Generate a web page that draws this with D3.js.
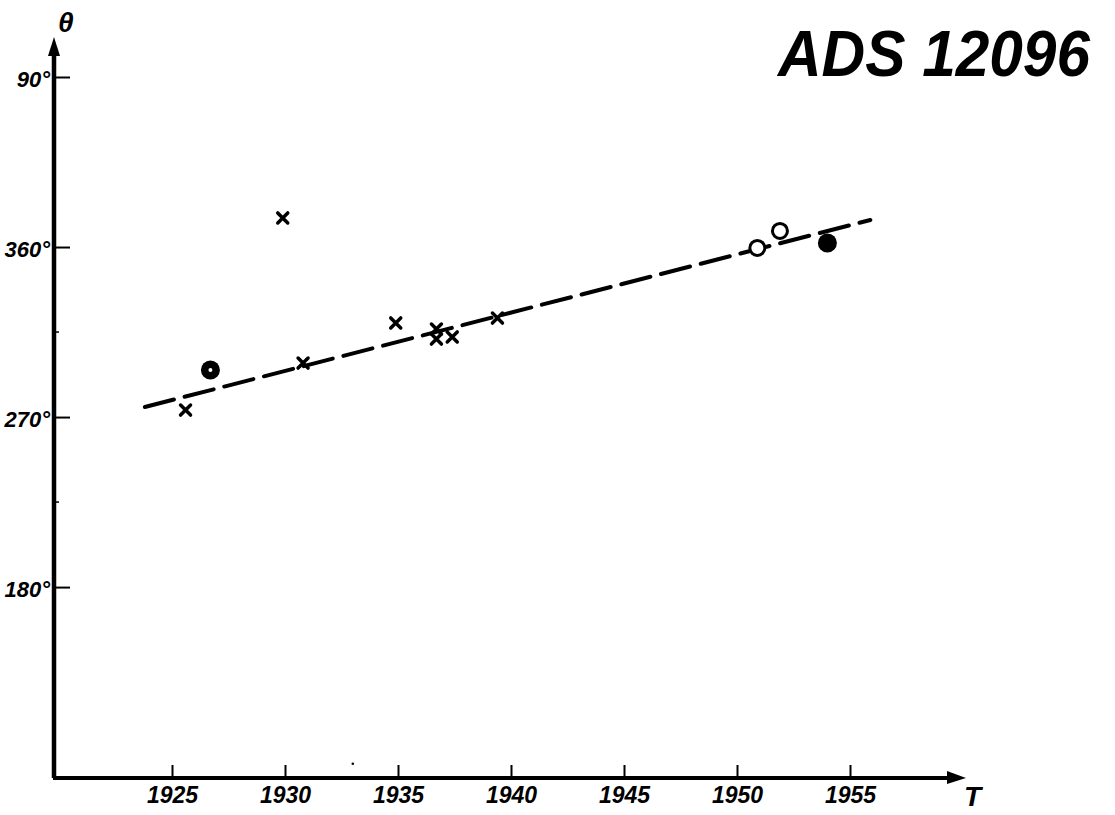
<!DOCTYPE html>
<html>
<head>
<meta charset="utf-8">
<script src="https://cdn.jsdelivr.net/npm/d3@7"></script>
<style>
  body { margin: 0; background: #fff; }
  text { font-family: "Liberation Sans", Arial, sans-serif; font-style: italic; font-weight: bold; fill: #000; }
</style>
</head>
<body>
<svg id="chart" width="1115" height="815"></svg>
<script>
// observations: year, position angle (deg, unwrapped past 360)
var crossYears = [1925.6, 1929.9, 1930.8, 1934.9, 1936.7, 1936.7, 1937.4, 1939.4];
var crossAngles = [273.7, 375.4, 298.6, 319.8, 316.6, 311.3, 312.4, 322.4];
var openYears = [1950.9, 1951.9];
var openAngles = [359.5, 368.5];
var filledYears = [1954.0];
var filledAngles = [362.1];
var ringYears = [1926.7];
var ringAngles = [294.9];
var fitYears = [1923.8, 1955.9];
var fitAngles = [275.3, 374.3];
var xTicks = [1925, 1930, 1935, 1940, 1945, 1950, 1955];
var yTicks = [450, 360, 270, 180];
var yTickLabels = ["90°", "360°", "270°", "180°"];
var yMinor = [315, 225];
var speckYears = [1933];
var speckAngles = [86.5];

var svg = d3.select("#chart");
var x = d3.scaleLinear().domain([1925, 1955]).range([172, 850]);
var y = d3.scaleLinear().domain([80, 450]).range([776, 77]);
var x0 = 54, y0 = 778;

function zip(a, b) {
  return a.map(function (v, i) { return [v, b[i]]; });
}

// axes lines with arrows
svg.append("path")
  .attr("d", "M" + x0 + "," + y0 + "L" + x0 + ",50")
  .attr("stroke", "#000").attr("stroke-width", 4.5).attr("fill", "none");
svg.append("path")
  .attr("d", "M" + (x0 - 1) + "," + y0 + "L952," + y0)
  .attr("stroke", "#000").attr("stroke-width", 4).attr("fill", "none");
svg.append("path").attr("d", "M" + x0 + ",37L" + (x0 - 6) + ",56L" + (x0 + 6) + ",56Z").attr("fill", "#000");
svg.append("path").attr("d", "M966," + y0 + "L947," + (y0 - 7) + "L947," + (y0 + 6) + "Z").attr("fill", "#000");

// y axis ticks + labels
var yAxis = d3.axisLeft(y).tickValues(yTicks).tickSize(-15).tickPadding(5)
  .tickFormat(function (d, i) { return yTickLabels[i]; });
var gy = svg.append("g").attr("transform", "translate(" + (x0 + 1) + ",0)").call(yAxis);
gy.select(".domain").remove();
gy.selectAll("line").attr("stroke", "#000").attr("stroke-width", 2);
gy.selectAll("text").attr("font-size", 22).attr("font-family", null).attr("dy", "0.42em");
svg.append("g").selectAll("line").data(yMinor).enter().append("line")
  .attr("x1", x0).attr("x2", x0 + 5)
  .attr("y1", function (d) { return y(d); }).attr("y2", function (d) { return y(d); })
  .attr("stroke", "#000").attr("stroke-width", 1.5);

// x axis ticks + labels
var xAxis = d3.axisBottom(x).tickValues(xTicks).tickSize(-13).tickPadding(9).tickFormat(d3.format("d"));
var gx = svg.append("g").attr("transform", "translate(0," + y0 + ")").call(xAxis);
gx.select(".domain").remove();
gx.selectAll("line").attr("stroke", "#000").attr("stroke-width", 2);
gx.selectAll("text").attr("font-size", 23).attr("font-family", null);

// axis names
svg.append("text").attr("x", 58).attr("y", 32).attr("font-size", 28).text("θ");
svg.append("text").attr("x", 964).attr("y", 806).attr("font-size", 28).text("T");

// title
svg.append("text").attr("x", 778).attr("y", 76).attr("font-size", 64)
  .attr("textLength", 312).attr("lengthAdjust", "spacingAndGlyphs").text("ADS 12096");

// fitted dashed line
svg.append("path")
  .datum(zip(fitYears, fitAngles))
  .attr("d", d3.line().x(function (d) { return x(d[0]); }).y(function (d) { return y(d[1]); }))
  .attr("fill", "none").attr("stroke", "#000").attr("stroke-width", 4)
  .attr("stroke-dasharray", "30,11").attr("stroke-linecap", "round");

// crosses
svg.append("g").selectAll("path").data(zip(crossYears, crossAngles)).enter().append("path")
  .attr("d", function (d) {
    var cx = x(d[0]), cy = y(d[1]), s = 5;
    return "M" + (cx - s) + "," + (cy - s) + "L" + (cx + s) + "," + (cy + s) +
      "M" + (cx - s) + "," + (cy + s) + "L" + (cx + s) + "," + (cy - s);
  })
  .attr("stroke", "#000").attr("stroke-width", 3.5).attr("stroke-linecap", "round");

// open circles
svg.append("g").selectAll("circle").data(zip(openYears, openAngles)).enter().append("circle")
  .attr("cx", function (d) { return x(d[0]); }).attr("cy", function (d) { return y(d[1]); })
  .attr("r", 7.5).attr("fill", "#fff").attr("stroke", "#000").attr("stroke-width", 3);

// filled circles
svg.append("g").selectAll("circle").data(zip(filledYears, filledAngles)).enter().append("circle")
  .attr("cx", function (d) { return x(d[0]); }).attr("cy", function (d) { return y(d[1]); })
  .attr("r", 9.5).attr("fill", "#000");

// filled circle with centre dot
var ring = svg.append("g").selectAll("g").data(zip(ringYears, ringAngles)).enter().append("g");
ring.append("circle")
  .attr("cx", function (d) { return x(d[0]); }).attr("cy", function (d) { return y(d[1]); })
  .attr("r", 9.5).attr("fill", "#000");
ring.append("circle")
  .attr("cx", function (d) { return x(d[0]); }).attr("cy", function (d) { return y(d[1]); })
  .attr("r", 2).attr("fill", "#fff");

// stray speck on the original sheet
svg.append("g").selectAll("circle").data(zip(speckYears, speckAngles)).enter().append("circle")
  .attr("cx", function (d) { return x(d[0]); }).attr("cy", function (d) { return y(d[1]); })
  .attr("r", 1.3).attr("fill", "#000");
</script>
</body>
</html>
